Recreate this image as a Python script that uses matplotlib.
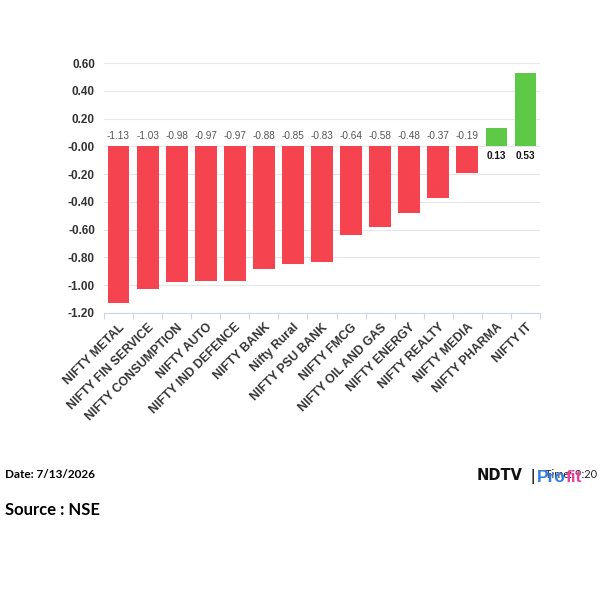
import matplotlib.pyplot as plt
import numpy as np

# sector indices and their % change
sectors = ['NIFTY METAL', 'NIFTY FIN SERVICE', 'NIFTY CONSUMPTION',
           'NIFTY AUTO', 'NIFTY IND DEFENCE', 'NIFTY BANK', 'Nifty Rural',
           'NIFTY PSU BANK', 'NIFTY FMCG', 'NIFTY OIL AND GAS',
           'NIFTY ENERGY', 'NIFTY REALTY', 'NIFTY MEDIA', 'NIFTY PHARMA',
           'NIFTY IT']
changes = [-1.13, -1.03, -0.98, -0.97, -0.97, -0.88, -0.85, -0.83, -0.64,
           -0.58, -0.48, -0.37, -0.19, 0.13, 0.53]
y_ticks = [0.60, 0.40, 0.20, 0.00, -0.20, -0.40, -0.60, -0.80, -1.00, -1.20]

date_text = 'Date: 7/13/2026'
time_text = 'Time: 9:20'
source_text = 'Source : NSE'

RED = '#f5434f'
GREEN = '#5ec947'

plt.rcParams['font.family'] = ['Liberation Sans', 'DejaVu Sans']

fig = plt.figure(figsize=(6, 6), dpi=100, facecolor='white')
ax = fig.add_axes([104 / 600, 1 - 313 / 600, 436 / 600, 250 / 600])

x = np.arange(len(sectors))
colors = [GREEN if v > 0 else RED for v in changes]
ax.bar(x, changes, width=0.75, color=colors, zorder=3)

# value labels sit by the zero line
for xi, v in zip(x, changes):
    if v < 0:
        ax.annotate(f'{v:.2f}', (xi, 0), xytext=(0, 7.2),
                    textcoords='offset points', ha='center', va='center',
                    fontsize=7.2, color='#555555')
    else:
        ax.annotate(f'{v:.2f}', (xi, 0), xytext=(0, -7.2),
                    textcoords='offset points', ha='center', va='center',
                    fontsize=7.2, color='#111111', fontweight='bold')

ax.set_xlim(-0.5, len(sectors) - 0.5)
ax.set_ylim(-1.2, 0.6)
ax.set_yticks(y_ticks)
ax.set_yticklabels(['-0.00' if t == 0 else f'{t:.2f}' for t in y_ticks],
                   fontsize=8.5, fontweight='bold', color='#333333')
ax.tick_params(axis='y', length=0, pad=6.5)

ax.set_xticks(x)
ax.set_xticklabels(sectors, rotation=45, ha='right', rotation_mode='anchor',
                   fontsize=8.8, fontweight='bold', color='#333333')
ax.set_xticks(np.arange(-0.5, len(sectors)), minor=True)
ax.tick_params(axis='x', which='major', length=0, pad=6)
ax.tick_params(axis='x', which='minor', length=4, color='#ccd6eb', width=0.8)

ax.grid(axis='y', color='#e6e6e6', linewidth=0.8, zorder=0)
for side in ['top', 'right', 'left']:
    ax.spines[side].set_visible(False)
ax.spines['bottom'].set_color('#ccd6eb')

# footer
fig.text(5 / 600, 1 - 475 / 600, date_text, fontsize=8.5, fontweight='bold',
         family=['Lato', 'DejaVu Sans'], va='center', ha='left')
fig.text(5 / 600, 1 - 510 / 600, source_text, fontsize=12, fontweight='bold',
         family=['Lato', 'DejaVu Sans'], va='center', ha='left')

# logo, with the time stamp hidden behind it as in the source
fig.text(597 / 600, 1 - 475 / 600, time_text, fontsize=8,
         family=['Lato', 'DejaVu Sans'], va='center', ha='right',
         color='#222222', zorder=1)
fig.text(477 / 600, 1 - 476 / 600, 'NDTV', fontsize=10.5, fontweight='bold',
         family=['DejaVu Sans'], va='center', ha='left', color='#111111')
fig.text(533 / 600, 1 - 476 / 600, '|', fontsize=12, va='center',
         ha='center', color='#111111')
pro = fig.text(537 / 600, 1 - 477 / 600, 'Pro', fontsize=12.5,
               fontweight='bold', va='center', ha='left', color='#2f7fe8',
               zorder=2)
fig.canvas.draw()
pro_box = pro.get_window_extent()
fig.text(pro_box.x1 / 600, 1 - 477 / 600, 'fit', fontsize=12.5,
         fontweight='bold', va='center', ha='left', color='#e8409c',
         zorder=2)

fig.savefig('out.png', dpi=100, facecolor='white')
